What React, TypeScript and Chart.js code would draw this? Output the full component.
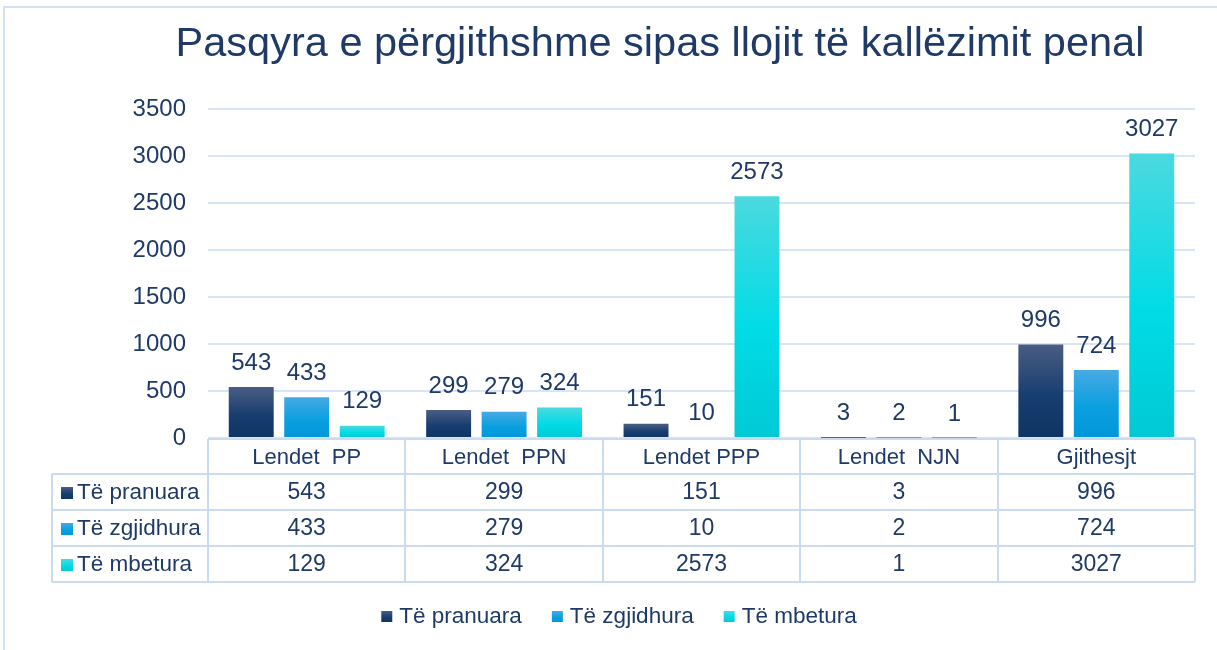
import React, { useEffect, useRef } from "react";
import { Chart, registerables } from "chart.js";

Chart.register(...registerables);

const TITLE = "Pasqyra e përgjithshme sipas llojit të kallëzimit penal";
const categories = ["Lendet  PP", "Lendet  PPN", "Lendet PPP", "Lendet  NJN", "Gjithesjt"];
const seriesNames = ["Të pranuara", "Të zgjidhura", "Të mbetura"];
const pranuara = [543, 299, 151, 3, 996];
const zgjidhura = [433, 279, 10, 2, 724];
const mbetura = [129, 324, 2573, 1, 3027];
const yTicks = [0, 500, 1000, 1500, 2000, 2500, 3000, 3500];

const TEXT = "#1F3A66";
const GRID = "#D8E5F6";
const TABLE_LINE = "#CADBF0";
const FONT = "'Liberation Sans', Arial, sans-serif";

// gradient stops per series: [top, middle, bottom]
const gradStops = [
  ["#4B5D83", "#173E70", "#0E3463"],
  ["#48AAE4", "#0AA0E0", "#0096D8"],
  ["#4BD9DF", "#00DCE6", "#00C9D4"],
];
const solid = ["#1A3F6E", "#0D9FDF", "#10D5DF"];

function makeGrad(chart: any, top: number, bottom: number, s: number) {
  const g = chart.ctx.createLinearGradient(0, top, 0, bottom);
  g.addColorStop(0, gradStops[s][0]);
  g.addColorStop(0.55, gradStops[s][1]);
  g.addColorStop(1, gradStops[s][2]);
  return g;
}

const barBg = (s: number) => (ctx: any) => {
  const chart = ctx.chart;
  if (!chart.chartArea || ctx.type !== "data") return solid[s];
  const y = chart.scales.y;
  const top = y.getPixelForValue(ctx.raw);
  const base = y.getPixelForValue(0);
  if (!isFinite(top) || base - top < 1) return solid[s];
  return makeGrad(chart, top, base, s);
};

const seriesData = [pranuara, zgjidhura, mbetura];

const customPlugin = {
  id: "custom",
  beforeDraw(chart: any) {
    const ctx = chart.ctx;
    ctx.save();
    ctx.fillStyle = "#FFFFFF";
    ctx.fillRect(0, 0, chart.width, chart.height);
    ctx.strokeStyle = "#D3E1F2";
    ctx.lineWidth = 2;
    ctx.strokeRect(4, 7, chart.width + 20, chart.height + 20);
    // title
    ctx.fillStyle = TEXT;
    ctx.font = `41.5px ${FONT}`;
    ctx.textAlign = "center";
    ctx.textBaseline = "middle";
    ctx.fillText(TITLE, 660, 45);
    ctx.restore();
  },
  afterDatasetsDraw(chart: any) {
    const ctx = chart.ctx;
    ctx.save();
    ctx.fillStyle = TEXT;
    ctx.font = `24px ${FONT}`;
    ctx.textAlign = "center";
    ctx.textBaseline = "middle";
    chart.data.datasets.forEach((ds: any, di: number) => {
      const meta = chart.getDatasetMeta(di);
      meta.data.forEach((el: any, i: number) => {
        ctx.fillText(String(ds.data[i]), el.x, el.y - 24);
      });
    });
    ctx.restore();
  },
  afterDraw(chart: any) {
    const ctx = chart.ctx;
    const x = chart.scales.x;
    const area = chart.chartArea;
    const n = categories.length;
    const cw = (area.right - area.left) / n;
    const top = area.bottom + 1;
    const headerH = 35;
    const rowH = 36;
    const labelLeft = 52;
    const tableBottom = top + headerH + rowH * seriesNames.length;
    ctx.save();
    ctx.strokeStyle = TABLE_LINE;
    ctx.lineWidth = 2;
    ctx.beginPath();
    ctx.moveTo(area.left, top);
    ctx.lineTo(area.right, top);
    for (let i = 0; i <= n; i++) {
      const px = Math.round(area.left + cw * i);
      ctx.moveTo(px, top);
      ctx.lineTo(px, tableBottom);
    }
    for (let r = 0; r <= seriesNames.length; r++) {
      const py = top + headerH + rowH * r;
      ctx.moveTo(labelLeft, py);
      ctx.lineTo(area.right, py);
    }
    ctx.moveTo(labelLeft, top + headerH);
    ctx.lineTo(labelLeft, tableBottom);
    ctx.stroke();

    ctx.fillStyle = TEXT;
    ctx.textBaseline = "middle";
    ctx.textAlign = "center";
    ctx.font = `22px ${FONT}`;
    categories.forEach((c, i) => {
      ctx.fillText(c, x.getPixelForValue(i), top + headerH / 2 + 1);
    });
    seriesNames.forEach((name, r) => {
      const cy = top + headerH + rowH * r + rowH / 2 + 1;
      ctx.font = `23px ${FONT}`;
      ctx.textAlign = "center";
      ctx.fillStyle = TEXT;
      seriesData[r].forEach((v, i) => {
        ctx.fillText(String(v), x.getPixelForValue(i), cy);
      });
      ctx.fillStyle = makeGrad(chart, cy - 6, cy + 6, r);
      ctx.fillRect(61, cy - 6, 12, 12);
      ctx.fillStyle = TEXT;
      ctx.textAlign = "left";
      ctx.font = `22.5px ${FONT}`;
      ctx.fillText(name, 77, cy);
    });

    // legend
    const ly = 617;
    ctx.font = `22.5px ${FONT}`;
    const boxW = 11;
    const gapBoxText = 7;
    const gapItems = 30;
    const widths = seriesNames.map((s) => boxW + gapBoxText + ctx.measureText(s).width);
    const total = widths.reduce((a, b) => a + b, 0) + gapItems * (seriesNames.length - 1);
    let lx = 619 - total / 2;
    seriesNames.forEach((s, i) => {
      ctx.fillStyle = makeGrad(chart, ly - 6, ly + 5, i);
      ctx.fillRect(lx, ly - 6, boxW, boxW);
      ctx.fillStyle = TEXT;
      ctx.textAlign = "left";
      ctx.fillText(s, lx + boxW + gapBoxText, ly);
      lx += widths[i] + gapItems;
    });
    ctx.restore();
  },
};

export default function App() {
  const ref = useRef<HTMLCanvasElement | null>(null);
  useEffect(() => {
    document.body.style.margin = "0";
    if (!ref.current) return;
    const chart = new Chart(ref.current, {
      type: "bar",
      data: {
        labels: categories,
        datasets: seriesNames.map((name, s) => ({
          label: name,
          data: seriesData[s],
          backgroundColor: barBg(s),
          borderWidth: 0,
          categoryPercentage: 0.843,
          barPercentage: 0.81,
        })),
      },
      options: {
        responsive: false,
        animation: false,
        layout: { padding: { top: 109, right: 22, left: 0, bottom: 0 } },
        plugins: {
          legend: { display: false },
          title: { display: false },
          tooltip: { enabled: false },
        },
        scales: {
          x: {
            grid: { display: false },
            border: { display: false },
            ticks: { display: false },
            afterFit: (scale: any) => {
              scale.height = 212;
            },
          },
          y: {
            min: 0,
            max: 3500,
            afterBuildTicks: (scale: any) => {
              scale.ticks = yTicks.map((v) => ({ value: v }));
            },
            grid: { color: GRID, lineWidth: 2, drawTicks: false },
            border: { display: false },
            ticks: {
              padding: 22,
              color: TEXT,
              font: { family: FONT, size: 24 },
              callback: (v: any) => String(v),
            },
            afterFit: (scale: any) => {
              scale.width = 208;
            },
          },
        },
      },
      plugins: [customPlugin],
    });
    return () => chart.destroy();
  }, []);
  return (
    <div style={{ position: "absolute", left: 0, top: 0, width: 1217, height: 650 }}>
      <canvas ref={ref} width={1217} height={650} style={{ display: "block" }} />
    </div>
  );
}
